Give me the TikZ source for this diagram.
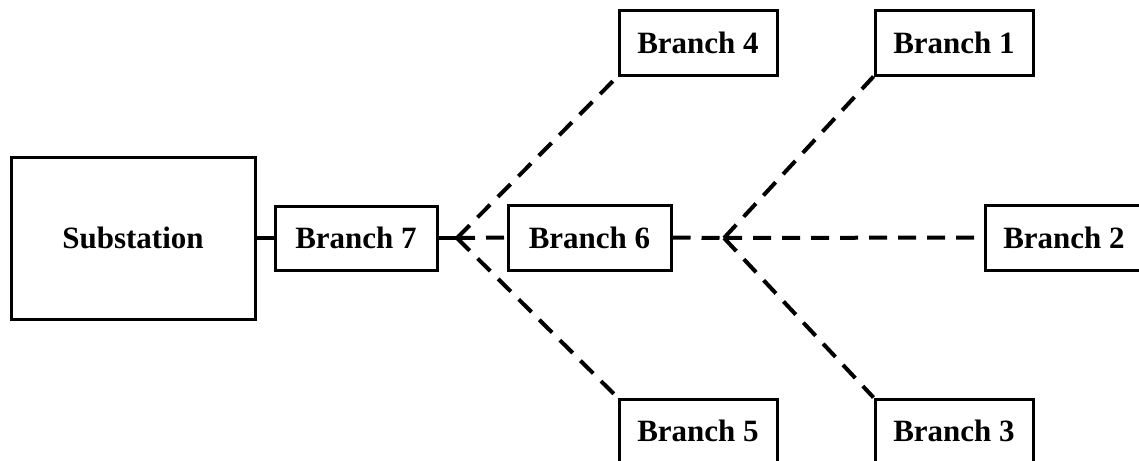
\documentclass[tikz,border=0pt]{standalone}
\usepackage{fontspec}
\setmainfont{Liberation Serif}
\begin{document}
\begin{tikzpicture}[x=1pt,y=-1pt,
  box/.style={draw,line width=3pt,minimum width=158pt,minimum height=64pt,inner sep=0pt,font=\fontsize{31}{37}\selectfont\bfseries},
  link/.style={line width=4pt,dash pattern=on 18pt off 11pt},
  solidlink/.style={line width=4pt}]
\useasboundingbox (0,0) rectangle (1139,460);
\clip (0,0) rectangle (1139,460);
\node[box,minimum width=244pt,minimum height=162pt] (sub) at (133,238) {Substation};
\node[box,minimum width=162pt] (b7) at (356,238) {Branch 7};
\node[box,minimum width=163pt,minimum height=65pt] (b6) at (589.5,237.5) {Branch 6};
\node[box] (b4) at (698,43) {Branch 4};
\node[box] (b1) at (954,43) {Branch 1};
\node[box] (b5) at (698,431) {Branch 5};
\node[box] (b3) at (954,431) {Branch 3};
\node[box,minimum height=65pt] (b2) at (1064,237.5) {Branch 2};
\coordinate (j1) at (457,238);
\coordinate (j2) at (724,238);
\draw[solidlink] (sub.east) -- (b7.west);
\draw[link] (b7.east) -- (j1);
\draw[link] (j1) -- (b6.west);
\draw[link] (j1) -- (b4.south west);
\draw[link] (j1) -- (b5.north west);
\draw[link] (b6.east) -- (j2);
\draw[link] (j2) -- (b2.west);
\draw[link] (j2) -- (b1.south west);
\draw[link] (j2) -- (b3.north west);
\end{tikzpicture}
\end{document}
